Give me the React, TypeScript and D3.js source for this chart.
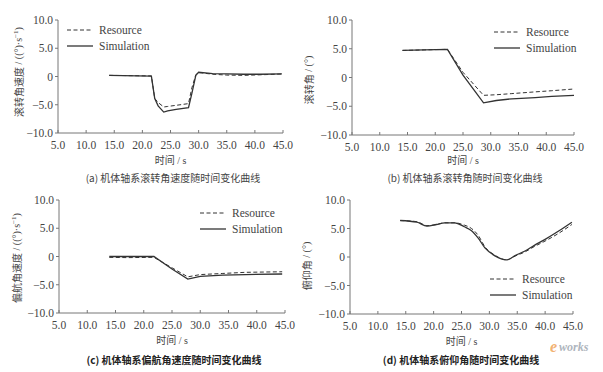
import * as d3 from 'd3';

// time ticks shared by all four panels
const xTicks = [5, 10, 15, 20, 25, 30, 35, 40, 45];
const yTicks = [10, 5, 0, -5, -10];

// (a) roll rate
const rollRateT = [14.1, 21.6, 22.2, 22.8, 23.8, 24.5, 26.0, 28.2, 28.8, 29.5, 30.0, 32.5, 35.0, 38.0, 41.0, 44.8];
const rollRateRes = [0.2, 0.1, -3.9, -4.6, -5.4, -5.3, -5.1, -4.8, -2.0, 0.3, 0.7, 0.4, 0.25, 0.2, 0.3, 0.45];
const rollRateSim = [0.2, 0.05, -3.9, -5.2, -6.3, -6.1, -5.8, -5.5, -3.0, 0.2, 0.75, 0.5, 0.45, 0.4, 0.4, 0.45];

// (b) roll angle
const rollT = [14.1, 18.0, 22.2, 25.0, 28.7, 31.0, 33.8, 38.0, 41.0, 45.0];
const rollRes = [4.7, 4.8, 4.9, 0.9, -3.1, -3.0, -2.8, -2.5, -2.3, -2.0];
const rollSim = [4.7, 4.8, 4.9, 0.4, -4.4, -4.0, -3.7, -3.5, -3.3, -3.1];

// (c) yaw rate
const yawRateT = [13.9, 17.0, 21.8, 25.0, 27.8, 30.0, 34.0, 38.0, 44.5];
const yawRateRes = [-0.15, -0.2, -0.15, -2.0, -3.6, -3.2, -3.0, -2.8, -2.7];
const yawRateSim = [0.0, 0.0, 0.0, -2.2, -4.0, -3.5, -3.3, -3.2, -3.1];

// (d) pitch angle
const pitchT = [14.0, 17.0, 18.8, 20.5, 22.0, 23.8, 25.5, 26.8, 28.0, 29.2, 31.0, 33.1, 34.7, 36.4, 38.0, 40.0, 42.5, 44.8];
const pitchRes = [6.4, 6.2, 5.5, 5.7, 6.0, 6.0, 5.6, 5.0, 3.8, 1.8, 0.3, -0.5, 0.2, 0.9, 1.8, 2.8, 4.2, 5.7];
const pitchSim = [6.4, 6.1, 5.4, 5.7, 6.0, 6.0, 5.3, 4.6, 3.3, 1.6, 0.2, -0.5, 0.3, 1.05, 2.0, 3.1, 4.6, 6.1];

const SERIF = '"Liberation Serif", "Times New Roman", "DejaVu Serif", serif';
const CJK = '"Noto Sans CJK SC", sans-serif';
const AXIS = '#777';
const INK = '#444';
const LINE = '#333';

type PanelProps = {
  x0: number;
  x1: number;
  yTop: number;
  yBot: number;
  t: number[];
  res: number[];
  sim: number[];
  smooth?: boolean;
  yLabel: string;
  yUnit: 'rate' | 'deg';
  labelX: number;
  labelY: number;
  caption: string;
  captionX: number;
  captionY: number;
  titleY: number;
  bold?: boolean;
  legendX: number;
  legendY: number;
};

const serif = { fontFamily: SERIF };
const cjk = { fontFamily: CJK };

function Panel(p: PanelProps) {
  const x = d3.scaleLinear().domain([5, 45]).range([p.x0, p.x1]);
  const y = d3.scaleLinear().domain([-10, 10]).range([p.yBot, p.yTop]);
  const line = d3
    .line<number>()
    .x((_d, i) => x(p.t[i]))
    .y((d) => y(d))
    .curve(p.smooth ? d3.curveMonotoneX : d3.curveLinear);

  return (
    <g>
      {/* axes */}
      <line x1={p.x0} x2={p.x0} y1={p.yTop} y2={p.yBot} stroke={AXIS} />
      <line x1={p.x0} x2={p.x1} y1={p.yBot} y2={p.yBot} stroke={AXIS} />
      {yTicks.map((v) => (
        <g key={'y' + v}>
          <line x1={p.x0 - 3} x2={p.x0} y1={y(v)} y2={y(v)} stroke={AXIS} />
          <text x={p.x0 - 5} y={y(v) + 4} textAnchor="end" style={serif} fontSize={11.5} fill={INK}>
            {v === 0 ? '0' : v < 0 ? '\u2212' + Math.abs(v).toFixed(1) : v.toFixed(1)}
          </text>
        </g>
      ))}
      {xTicks.map((v) => (
        <g key={'x' + v}>
          <line x1={x(v)} x2={x(v)} y1={p.yBot} y2={p.yBot - 3} stroke={AXIS} />
          <text x={x(v)} y={p.yBot + 16} textAnchor="middle" style={serif} fontSize={11.5} fill={INK}>
            {v.toFixed(1)}
          </text>
        </g>
      ))}

      {/* series */}
      <path d={line(p.res) || ''} fill="none" stroke={LINE} strokeWidth={1} strokeDasharray="4,2.5" />
      <path d={line(p.sim) || ''} fill="none" stroke={LINE} strokeWidth={1.3} />

      {/* legend */}
      <line x1={p.legendX} x2={p.legendX + 26} y1={p.legendY} y2={p.legendY} stroke={LINE} strokeDasharray="4,2.5" />
      <text x={p.legendX + 32} y={p.legendY + 4} style={serif} fontSize={11.5} fill={INK}>Resource</text>
      <line x1={p.legendX} x2={p.legendX + 26} y1={p.legendY + 16} y2={p.legendY + 16} stroke={LINE} strokeWidth={1.3} />
      <text x={p.legendX + 32} y={p.legendY + 20} style={serif} fontSize={11.5} fill={INK}>Simulation</text>

      {/* axis titles */}
      <text x={(p.x0 + p.x1) / 2} y={p.titleY} textAnchor="middle" fontSize={10} fill={INK}>
        <tspan style={cjk}>时间</tspan>
        <tspan style={serif}> / s</tspan>
      </text>
      <text
        transform={`translate(${p.labelX},${p.labelY}) rotate(-90)`}
        textAnchor="middle"
        fontSize={10}
        fill={INK}
        dominantBaseline="middle"
      >
        <tspan style={cjk}>{p.yLabel}</tspan>
        {p.yUnit === 'rate' ? (
          <>
            <tspan style={serif}> / ((°)·s</tspan>
            <tspan style={serif} fontSize={7} dy={-4}>−1</tspan>
            <tspan style={serif} dy={4}>)</tspan>
          </>
        ) : (
          <tspan style={serif}> / (°)</tspan>
        )}
      </text>
      <text
        x={p.captionX}
        y={p.captionY}
        textAnchor="middle"
        style={cjk}
        fontSize={10}
        fontWeight={p.bold ? 'bold' : 'normal'}
        fill={p.bold ? '#222' : INK}
      >
        {p.caption}
      </text>
    </g>
  );
}

export default function App() {
  return (
    <svg
      width={603}
      height={372}
      style={{ position: 'absolute', left: 0, top: 0, background: '#fff' }}
    >
      <rect width={603} height={372} fill="#fff" />
      <Panel
        x0={58} x1={283} yTop={20} yBot={133}
        t={rollRateT} res={rollRateRes} sim={rollRateSim}
        yLabel="滚转角速度" yUnit="rate" labelX={20} labelY={72}
        caption="(a) 机体轴系滚转角速度随时间变化曲线" captionX={173} captionY={182}
        titleY={164} legendX={67} legendY={30}
      />
      <Panel
        x0={352} x1={574} yTop={20} yBot={135}
        t={rollT} res={rollRes} sim={rollSim}
        yLabel="滚转角" yUnit="deg" labelX={310} labelY={80}
        caption="(b) 机体轴系滚转角随时间变化曲线" captionX={465} captionY={182}
        titleY={164} legendX={494} legendY={32}
      />
      <Panel
        x0={59} x1={285} yTop={200} yBot={313}
        t={yawRateT} res={yawRateRes} sim={yawRateSim}
        yLabel="偏航角速度" yUnit="rate" labelX={18} labelY={258}
        caption="(c) 机体轴系偏航角速度随时间变化曲线" captionX={174} captionY={364}
        titleY={344} bold legendX={200} legendY={213}
      />
      <Panel
        x0={350} x1={573} yTop={200} yBot={314}
        t={pitchT} res={pitchRes} sim={pitchSim} smooth
        yLabel="俯仰角" yUnit="deg" labelX={308} labelY={266}
        caption="(d) 机体轴系俯仰角随时间变化曲线" captionX={461} captionY={364}
        titleY={345} bold legendX={490} legendY={279}
      />
      {/* watermark */}
      <text x={550} y={352} style={serif} fontStyle="italic" fontWeight="bold" fontSize={16} fill="#f0a050" opacity={0.8}>e</text>
      <text x={559} y={351} style={serif} fontStyle="italic" fontWeight="bold" fontSize={12} fill="#9aa3ad" opacity={0.8}>works</text>
    </svg>
  );
}
